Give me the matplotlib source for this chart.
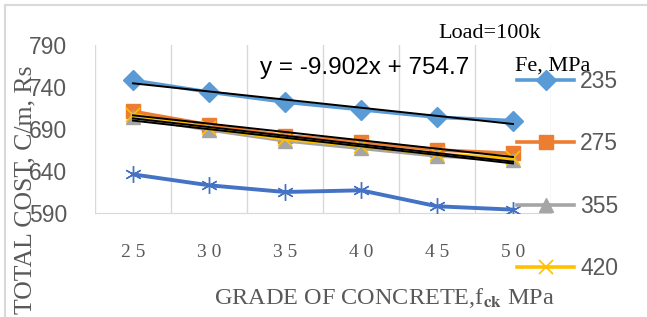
import matplotlib
matplotlib.use("Agg")
import matplotlib.pyplot as plt
import numpy as np
from matplotlib.patches import Rectangle

# values
grades = ["2 5", "3 0", "3 5", "4 0", "4 5", "5 0"]
fe_235 = [748, 734, 722, 713, 704, 700]
fe_275 = [711, 695, 682, 675, 665, 661]
fe_355 = [704, 689, 676, 667, 658, 653]
fe_420 = [707, 691, 678, 670, 660, 655]
extra = [636, 623, 615, 617, 598, 594]

x = np.arange(1, len(grades) + 1)
grey = "#595959"
serif = "Liberation Serif"
sans = "Liberation Sans"
plt.rcParams["mathtext.fontset"] = "stix"

fig = plt.figure(figsize=(6.47, 3.17), dpi=100)
ax = fig.add_axes([95 / 647, 1 - 213 / 317, 456 / 647, 168 / 317])

# light border of the chart area
fig.patches.append(Rectangle((5 / 647, -0.1), 1.2, 1 - 5 / 317 + 0.1,
                             transform=fig.transFigure, fill=False,
                             edgecolor="#D9D9D9", lw=1.5, zorder=0))

l235, = ax.plot(x, fe_235, color="#5B9BD5", lw=2.6, marker="D", ms=10, zorder=3)
l275, = ax.plot(x, fe_275, color="#ED7D31", lw=2.6, marker="s", ms=10, zorder=3)
l355, = ax.plot(x, fe_355, color="#A5A5A5", lw=2.6, marker="^", ms=10.5, zorder=3)
l420, = ax.plot(x, fe_420, color="#FFC000", lw=2.6, marker="x", ms=10.5, mew=1.2, zorder=3)
ax.plot(x, extra, color="#4472C4", lw=2.8, marker=(6, 2, 0), ms=12, mew=1.0, zorder=3)

# linear trendlines
for ys in (fe_235, fe_275, fe_355, fe_420):
    k, b = np.polyfit(x, ys, 1)
    ax.plot(x, k * x + b, color="black", lw=1.4, zorder=4)

ax.set_xlim(0.5, 6.5)
ax.set_ylim(590, 790)
ax.set_yticks([590, 640, 690, 740, 790])
ax.set_xticks(x)
ax.set_xticklabels(grades, family=serif, fontsize=14, color=grey)
for t in ax.get_yticklabels():
    t.set_family(sans)
    t.set_fontsize(16.5)
    t.set_color(grey)
ax.tick_params(axis="y", length=0, pad=20)
ax.tick_params(axis="x", length=0, pad=22)
ax.set_xticks(np.arange(0.5, 7, 1), minor=True)
ax.tick_params(which="minor", length=0)
ax.grid(which="minor", axis="x", color="#D9D9D9", lw=1)
for s in ("top", "right", "left"):
    ax.spines[s].set_visible(False)
ax.spines["bottom"].set_color("#D9D9D9")

fig.text(384 / 647, 1 - 298 / 317, r"GRADE OF CONCRETE,f$_{\mathbf{ck}}$ MPa",
         family=serif, fontsize=17.5, color=grey, ha="center", va="center")
fig.text(25 / 647, 1 - 190 / 317, "TOTAL COST, C/m, Rs", rotation=90,
         family=serif, fontsize=18.5, color=grey, ha="center", va="center")

fig.text(365 / 647, 1 - 68 / 317, "y = -9.902x + 754.7", family=sans,
         fontsize=17.5, color="black", ha="center", va="center")
fig.text(490 / 647, 1 - 33 / 317, "Load=100k", family=serif,
         fontsize=16, color="black", ha="center", va="center")
fig.text(553 / 647, 1 - 66 / 317, "Fe, MPa", family=serif,
         fontsize=16, color="black", ha="center", va="center")

leg = ax.legend([l235, l275, l355, l420], ["235", "275", "355", "420"],
                loc="upper left", bbox_to_anchor=(517 / 647, 1 - 70 / 317),
                bbox_transform=fig.transFigure, frameon=False,
                prop={"family": sans, "size": 16.5}, labelspacing=1.72,
                handlelength=2.5, handletextpad=0.25, borderpad=0,
                borderaxespad=0)
for t in leg.get_texts():
    t.set_color(grey)

fig.savefig("out.png", dpi=100)
